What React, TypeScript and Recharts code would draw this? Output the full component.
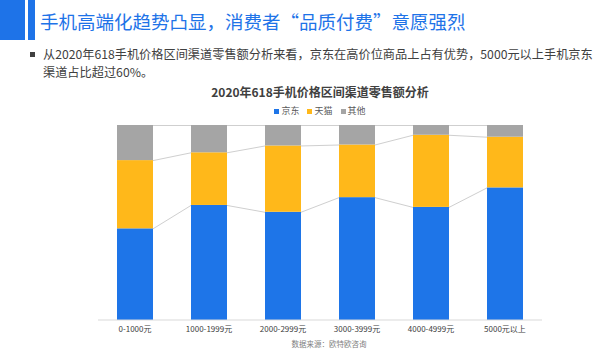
import React from 'react';
import { BarChart, Bar, XAxis, YAxis, Legend } from 'recharts';

const categories = ['0-1000元', '1000-1999元', '2000-2999元', '3000-3999元', '4000-4999元', '5000元以上'];
const jdShare = [47, 59, 55.5, 63, 58, 68];
const tmallShare = [35, 27, 34, 27, 37, 26];
const otherShare = [18, 14, 10.5, 10, 5, 6];

const seriesKeys = ['jd', 'tmall', 'other'];
const seriesNames = ['京东', '天猫', '其他'];
const seriesColors = ['#1E75E8', '#FFB81A', '#A5A5A5'];

const data = categories.map((name, i) => ({
  name,
  jd: jdShare[i],
  tmall: tmallShare[i],
  other: otherShare[i],
}));

const CHART_W = 444;
const STEP = CHART_W / categories.length;
const FONT = '"Noto Sans CJK SC", "Noto Sans", sans-serif';

// bar segment plus the grey "series line" to the next bar (like Excel)
const makeShape = (level: number) => (props: any) => {
  const { x, y, width, height, fill, index } = props;
  const row: any = data[index];
  const keys = seriesKeys.slice(0, level + 1);
  const own = row[seriesKeys[level]];
  const cum = keys.reduce((s, k) => s + row[k], 0);
  const px = height / own;
  const base = y + cum * px;
  let link = null;
  if (index < data.length - 1) {
    const next: any = data[index + 1];
    const nextCum = keys.reduce((s, k) => s + next[k], 0);
    link = (
      <line
        x1={x + width}
        y1={y + 0.5}
        x2={x + STEP}
        y2={base - nextCum * px + 0.5}
        stroke="#cfcfcf"
        strokeWidth={1}
      />
    );
  }
  return (
    <g>
      <rect x={x} y={y} width={width} height={height} fill={fill} />
      {link}
    </g>
  );
};

const LegendContent = () => (
  <div style={{ height: 20, display: 'flex', justifyContent: 'center', alignItems: 'flex-start' }}>
    {seriesNames.map((n, i) => (
      <span
        key={n}
        style={{ display: 'flex', alignItems: 'center', margin: '0 4px', fontSize: 9, lineHeight: '12px', color: '#595959' }}
      >
        <span style={{ width: 5, height: 5, background: seriesColors[i], marginRight: 2 }} />
        {n}
      </span>
    ))}
  </div>
);

const App: React.FC = () => {
  return (
    <div
      style={{
        position: 'absolute',
        left: 0,
        top: 0,
        width: 600,
        height: 355,
        background: '#fff',
        fontFamily: FONT,
        overflow: 'hidden',
      }}
    >
      <div style={{ position: 'absolute', left: 0, top: 0, width: 25, height: 40, background: '#1E73E8' }} />
      <div style={{ position: 'absolute', left: 28, top: 0, width: 7, height: 40, background: '#1E73E8' }} />
      <div
        style={{
          position: 'absolute',
          left: 40,
          top: 8,
          fontSize: 18.5,
          lineHeight: '26px',
          color: '#1E73E8',
          whiteSpace: 'nowrap',
        }}
      >
        手机高端化趋势凸显，消费者“品质付费”意愿强烈
      </div>
      <div style={{ position: 'absolute', left: 30, top: 52, width: 5, height: 5, background: '#404040' }} />
      <div
        style={{
          position: 'absolute',
          left: 43,
          top: 45,
          width: 556,
          fontSize: 12.2,
          lineHeight: '18px',
          color: '#404040',
        }}
      >
        从2020年618手机价格区间渠道零售额分析来看，京东在高价位商品上占有优势，5000元以上手机京东渠道占比超过60%。
      </div>
      <div
        style={{
          position: 'absolute',
          left: 98,
          width: CHART_W,
          top: 84,
          textAlign: 'center',
          fontSize: 12,
          fontWeight: 'bold',
          color: '#404040',
          lineHeight: '16px',
        }}
      >
        2020年618手机价格区间渠道零售额分析
      </div>
      <div style={{ position: 'absolute', left: 98, top: 102 }}>
        <BarChart
          width={CHART_W}
          height={238}
          data={data}
          margin={{ top: 3, right: 0, left: 0, bottom: 0 }}
          barSize={36}
        >
          <XAxis
            dataKey="name"
            height={20}
            tickLine={false}
            tickSize={0}
            tickMargin={6}
            axisLine={{ stroke: '#d9d9d9' }}
            tick={{ fontSize: 8, fill: '#404040', fontFamily: FONT }}
            interval={0}
          />
          <YAxis hide domain={[0, 100]} />
          <Legend verticalAlign="top" align="center" content={<LegendContent />} />
          <Bar dataKey="jd" name="京东" stackId="a" fill={seriesColors[0]} shape={makeShape(0)} isAnimationActive={false} />
          <Bar dataKey="tmall" name="天猫" stackId="a" fill={seriesColors[1]} shape={makeShape(1)} isAnimationActive={false} />
          <Bar dataKey="other" name="其他" stackId="a" fill={seriesColors[2]} shape={makeShape(2)} isAnimationActive={false} />
        </BarChart>
      </div>
      <div
        style={{
          position: 'absolute',
          left: 0,
          width: 658,
          top: 339,
          textAlign: 'center',
          fontSize: 7.5,
          color: '#808080',
          lineHeight: '10px',
        }}
      >
        数据来源：欧特欧咨询
      </div>
    </div>
  );
};

export default App;
